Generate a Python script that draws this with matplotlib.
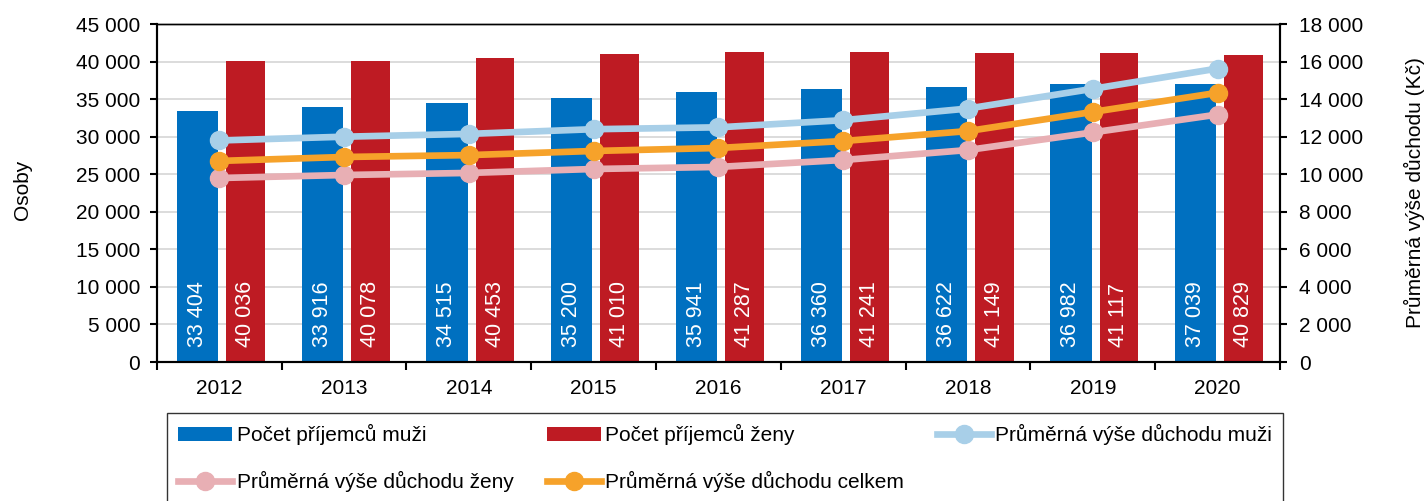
import matplotlib.pyplot as plt
import numpy as np
from matplotlib.ticker import FuncFormatter, MultipleLocator

plt.rcParams['font.family'] = ['Liberation Sans', 'DejaVu Sans']
plt.rcParams['font.size'] = 15

# data
years = ['2012', '2013', '2014', '2015', '2016', '2017', '2018', '2019', '2020']
prijemci_muzi = [33404, 33916, 34515, 35200, 35941, 36360, 36622, 36982, 37039]
prijemci_zeny = [40036, 40078, 40453, 41010, 41287, 41241, 41149, 41117, 40829]
duchod_muzi = [11800, 12000, 12150, 12400, 12500, 12880, 13500, 14550, 15630]
duchod_zeny = [9800, 9960, 10070, 10280, 10390, 10760, 11290, 12230, 13180]
duchod_celkem = [10710, 10920, 11020, 11240, 11400, 11770, 12300, 13320, 14340]

c_blue = '#0070c0'
c_red = '#be1b23'
c_lblue = '#a8cfe8'
c_pink = '#e8afb4'
c_orange = '#f6a22a'

def fmt(v, pos):
    return '{:,.0f}'.format(v).replace(',', ' ')

fig = plt.figure(figsize=(14.26, 5.01), dpi=100)
ax = fig.add_axes([0.110, 0.2774, 0.7876, 0.6746])
ax2 = ax.twinx()

x = np.arange(len(years))
b1 = ax.bar(x - 0.175, prijemci_muzi, 0.33, color=c_blue, zorder=2,
            label='Počet příjemců muži')
b2 = ax.bar(x + 0.21, prijemci_zeny, 0.31, color=c_red, zorder=2,
            label='Počet příjemců ženy')

for i in range(len(years)):
    ax.text(x[i] - 0.175, 2000, fmt(prijemci_muzi[i], None), rotation=90,
            ha='center', va='bottom', color='white', fontsize=15.5, zorder=3)
    ax.text(x[i] + 0.21, 2000, fmt(prijemci_zeny[i], None), rotation=90,
            ha='center', va='bottom', color='white', fontsize=15.5, zorder=3)

l1, = ax2.plot(x, duchod_muzi, color=c_lblue, lw=4.8, marker='o', ms=13,
               label='Průměrná výše důchodu muži')
l2, = ax2.plot(x, duchod_zeny, color=c_pink, lw=4.8, marker='o', ms=13,
               label='Průměrná výše důchodu ženy')
l3, = ax2.plot(x, duchod_celkem, color=c_orange, lw=4.8, marker='o', ms=13,
               label='Průměrná výše důchodu celkem')

ax.set_xlim(-0.5, len(years) - 0.5)
ax.set_ylim(0, 45000)
ax2.set_ylim(0, 18000)
ax.yaxis.set_major_locator(MultipleLocator(5000))
ax2.yaxis.set_major_locator(MultipleLocator(2000))
ax.yaxis.set_major_formatter(FuncFormatter(fmt))
ax2.yaxis.set_major_formatter(FuncFormatter(fmt))

ax.set_xticks(x)
ax.set_xticklabels(years)
ax.set_xticks(np.arange(len(years) + 1) - 0.5, minor=True)
ax.tick_params(axis='x', which='major', length=0, pad=12)
ax.tick_params(axis='x', which='minor', length=6, width=1.5, direction='out')
ax.tick_params(axis='y', length=5, width=1.5, pad=7)
ax2.tick_params(axis='y', length=5, width=1.5, pad=9)

ax.grid(axis='y', color='#d9d9d9', lw=1.3)
ax.set_axisbelow(True)
for a in (ax, ax2):
    for s in a.spines.values():
        s.set_linewidth(1.5)
    a.spines['top'].set_linewidth(1.0)

ax.set_ylabel('Osoby')
ax.yaxis.set_label_coords(-0.111, 0.51)
ax2.set_ylabel('Průměrná výše důchodu (Kč)')
ax2.yaxis.set_label_coords(1.11, 0.5)

handles = [b1, l2, b2, l3, l1]
leg = fig.legend(handles, [h.get_label() for h in handles], ncol=3,
                 loc='upper left', bbox_to_anchor=(0.117, 0.176, 0.783, 0.0),
                 mode='expand', frameon=True, fancybox=False,
                 edgecolor='black', handlelength=2.6, handletextpad=0.2,
                 labelspacing=1.25, borderpad=0.55, borderaxespad=0)
leg.get_frame().set_linewidth(1.0)

fig.savefig('out.png', dpi=100)
